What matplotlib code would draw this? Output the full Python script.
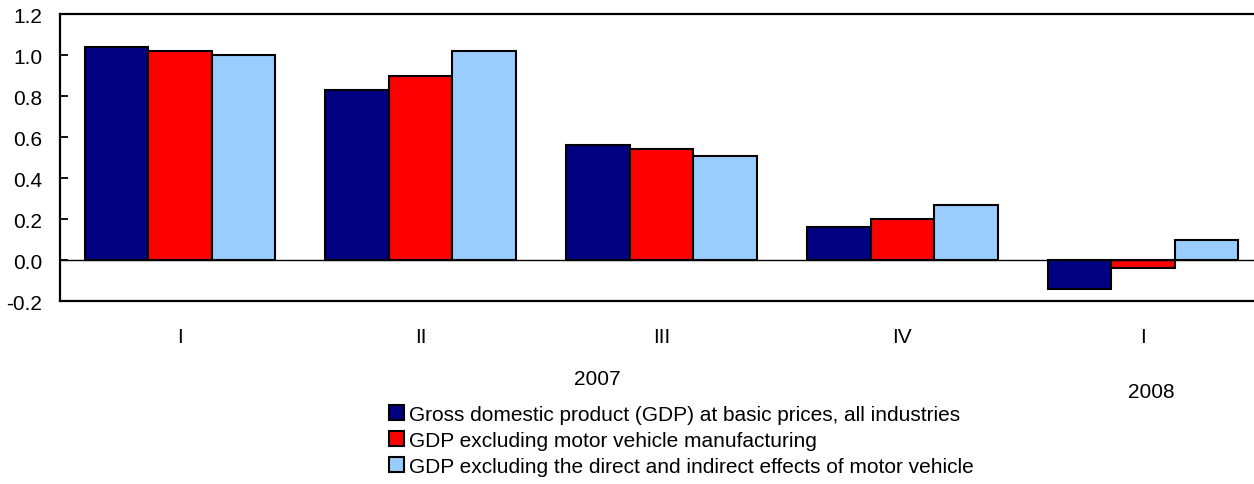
import matplotlib
matplotlib.use("Agg")
import matplotlib.pyplot as plt
from matplotlib.patches import Patch
import numpy as np

plt.rcParams['font.family'] = ['Liberation Sans', 'DejaVu Sans']
plt.rcParams['axes.unicode_minus'] = False

quarters = ["I", "II", "III", "IV", "I"]
years = ["2007", "2008"]
series_names = [
    "Gross domestic product (GDP) at basic prices, all industries",
    "GDP excluding motor vehicle manufacturing",
    "GDP excluding the direct and indirect effects of motor vehicle",
]
gdp_all = [1.04, 0.83, 0.56, 0.16, -0.14]
gdp_ex_mv = [1.02, 0.90, 0.54, 0.20, -0.04]
gdp_ex_direct_indirect = [1.00, 1.02, 0.51, 0.27, 0.10]
yticks = [-0.2, 0.0, 0.2, 0.4, 0.6, 0.8, 1.0, 1.2]

colors = ["#000080", "#FF0000", "#99CCFF"]
FS = 15

W, H = 1254, 485
fig = plt.figure(figsize=(W / 100, H / 100), dpi=100)
ax = fig.add_axes([59.5 / W, 1 - 302.3 / H, (1263.5 - 59.5) / W, (302.3 - 15) / H])

x = np.arange(len(quarters))
bw = 0.264
for i, (vals, c) in enumerate(zip([gdp_all, gdp_ex_mv, gdp_ex_direct_indirect], colors)):
    ax.bar(x + (i - 1) * bw, vals, width=bw, color=c, edgecolor="black", linewidth=1.5, zorder=3)

ax.axhline(0, color="black", linewidth=1.0, zorder=4)
ax.set_xlim(-0.5, len(quarters) - 0.5)
ax.set_ylim(-0.2, 1.2)
ax.set_yticks(yticks)
ax.set_yticklabels([f"{v:.1f}" for v in yticks])
ax.set_xticks(x)
ax.set_xticklabels(quarters)
ax.tick_params(axis="y", direction="in", length=6, width=1.3, pad=12.5, labelsize=FS)
ax.tick_params(axis="x", length=0, pad=18.5, labelsize=FS)
for s in ["left", "top", "bottom", "right"]:
    ax.spines[s].set_linewidth(1.6)

fig.text(597 / W, 1 - 380 / H, years[0], ha="center", va="center", fontsize=FS)
fig.text(1151 / W, 1 - 393 / H, years[1], ha="center", va="center", fontsize=FS)

handles = [Patch(facecolor=c, edgecolor="black", linewidth=1.5) for c in colors]
fig.legend(handles, series_names, loc="upper left", bbox_to_anchor=(389 / W, 1 - 406 / H),
           frameon=False, fontsize=FS, handlelength=0.72, handleheight=0.72,
           handletextpad=0.25, labelspacing=0.33, borderpad=0, borderaxespad=0)

fig.savefig("out.png", dpi=100)
